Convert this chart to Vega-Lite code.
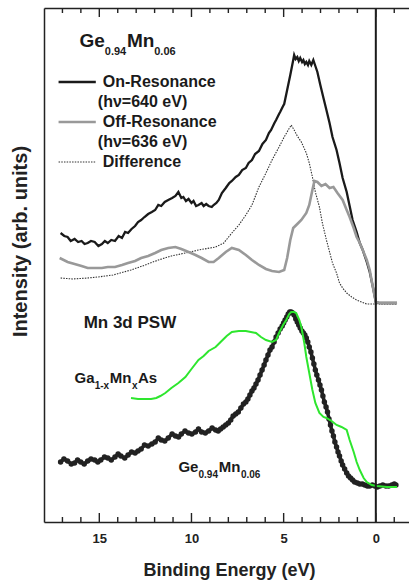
{
  "$schema": "https://vega.github.io/schema/vega-lite/v6.json",
  "width": 365,
  "height": 514,
  "autosize": "none",
  "padding": {"left": 44, "top": 8, "right": 0, "bottom": 58},
  "background": "white",
  "config": {
    "view": {"stroke": null},
    "font": "Liberation Sans",
    "axis": {
      "gridOpacity": 0,
      "domainColor": "#222",
      "domainWidth": 1.5,
      "labelFont": "Liberation Sans",
      "labelFontWeight": "bold",
      "labelFontSize": 13,
      "labelColor": "#222",
      "titleFont": "Liberation Sans",
      "titleFontWeight": "bold",
      "titleColor": "#222"
    }
  },
  "data": {"values": [
      {"s":"on","e":17.10,"v":289,"p":"c"},{"s":"on","e":16.90,"v":286,"p":"c"},{"s":"on","e":16.72,"v":285,"p":"c"},{"s":"on","e":16.55,"v":281,"p":"c"},{"s":"on","e":16.34,"v":283,"p":"c"},{"s":"on","e":16.15,"v":280,"p":"c"},{"s":"on","e":15.96,"v":281,"p":"c"},{"s":"on","e":15.80,"v":278,"p":"c"},{"s":"on","e":15.63,"v":279,"p":"c"},{"s":"on","e":15.45,"v":281,"p":"c"},{"s":"on","e":15.25,"v":280,"p":"c"},{"s":"on","e":15.05,"v":276,"p":"c"},{"s":"on","e":14.86,"v":278,"p":"c"},{"s":"on","e":14.70,"v":281,"p":"c"},{"s":"on","e":14.54,"v":279,"p":"c"},{"s":"on","e":14.35,"v":282,"p":"c"},{"s":"on","e":14.15,"v":281,"p":"c"},{"s":"on","e":13.95,"v":286,"p":"c"},{"s":"on","e":13.77,"v":284,"p":"c"},{"s":"on","e":13.60,"v":290,"p":"c"},{"s":"on","e":13.44,"v":289,"p":"c"},{"s":"on","e":13.25,"v":293,"p":"c"},{"s":"on","e":13.06,"v":296,"p":"c"},{"s":"on","e":12.90,"v":300,"p":"c"},{"s":"on","e":12.73,"v":302,"p":"c"},{"s":"on","e":12.55,"v":305,"p":"c"},{"s":"on","e":12.35,"v":308,"p":"c"},{"s":"on","e":12.15,"v":310,"p":"c"},{"s":"on","e":11.97,"v":312,"p":"c"},{"s":"on","e":11.80,"v":317,"p":"c"},{"s":"on","e":11.64,"v":316,"p":"c"},{"s":"on","e":11.45,"v":320,"p":"c"},{"s":"on","e":11.26,"v":322,"p":"c"},{"s":"on","e":11.05,"v":324,"p":"c"},{"s":"on","e":10.87,"v":326,"p":"c"},{"s":"on","e":10.71,"v":330,"p":"c"},{"s":"on","e":10.55,"v":324,"p":"c"},{"s":"on","e":10.44,"v":325,"p":"c"},{"s":"on","e":10.30,"v":321,"p":"c"},{"s":"on","e":10.16,"v":323,"p":"c"},{"s":"on","e":10.00,"v":319,"p":"c"},{"s":"on","e":9.89,"v":321,"p":"c"},{"s":"on","e":9.75,"v":316,"p":"c"},{"s":"on","e":9.62,"v":317,"p":"c"},{"s":"on","e":9.45,"v":319,"p":"c"},{"s":"on","e":9.34,"v":316,"p":"c"},{"s":"on","e":9.20,"v":318,"p":"c"},{"s":"on","e":9.07,"v":316,"p":"c"},{"s":"on","e":8.90,"v":315,"p":"c"},{"s":"on","e":8.80,"v":317,"p":"c"},{"s":"on","e":8.65,"v":319,"p":"c"},{"s":"on","e":8.52,"v":322,"p":"c"},{"s":"on","e":8.35,"v":329,"p":"c"},{"s":"on","e":8.14,"v":334,"p":"c"},{"s":"on","e":7.95,"v":339,"p":"c"},{"s":"on","e":7.81,"v":341,"p":"c"},{"s":"on","e":7.60,"v":345,"p":"c"},{"s":"on","e":7.43,"v":347,"p":"c"},{"s":"on","e":7.25,"v":352,"p":"c"},{"s":"on","e":7.05,"v":354,"p":"c"},{"s":"on","e":6.90,"v":359,"p":"c"},{"s":"on","e":6.72,"v":362,"p":"c"},{"s":"on","e":6.55,"v":368,"p":"c"},{"s":"on","e":6.34,"v":371,"p":"c"},{"s":"on","e":6.15,"v":378,"p":"c"},{"s":"on","e":5.96,"v":382,"p":"c"},{"s":"on","e":5.80,"v":389,"p":"c"},{"s":"on","e":5.68,"v":392,"p":"c"},{"s":"on","e":5.50,"v":399,"p":"c"},{"s":"on","e":5.41,"v":402,"p":"c"},{"s":"on","e":5.25,"v":408,"p":"c"},{"s":"on","e":5.19,"v":410,"p":"c"},{"s":"on","e":5.03,"v":416,"p":"c"},{"s":"on","e":4.97,"v":418,"p":"c"},{"s":"on","e":4.81,"v":432,"p":"c"},{"s":"on","e":4.64,"v":447,"p":"c"},{"s":"on","e":4.48,"v":462,"p":"c"},{"s":"on","e":4.43,"v":467,"p":"c"},{"s":"on","e":4.35,"v":463,"p":"c"},{"s":"on","e":4.26,"v":465,"p":"c"},{"s":"on","e":4.18,"v":461,"p":"c"},{"s":"on","e":4.10,"v":464,"p":"c"},{"s":"on","e":4.00,"v":460,"p":"c"},{"s":"on","e":3.93,"v":462,"p":"c"},{"s":"on","e":3.85,"v":458,"p":"c"},{"s":"on","e":3.77,"v":460,"p":"c"},{"s":"on","e":3.68,"v":457,"p":"c"},{"s":"on","e":3.61,"v":461,"p":"c"},{"s":"on","e":3.50,"v":457,"p":"c"},{"s":"on","e":3.39,"v":462,"p":"c"},{"s":"on","e":3.28,"v":456,"p":"c"},{"s":"on","e":3.17,"v":450,"p":"c"},{"s":"on","e":3.01,"v":437,"p":"c"},{"s":"on","e":2.84,"v":424,"p":"c"},{"s":"on","e":2.68,"v":412,"p":"c"},{"s":"on","e":2.51,"v":399,"p":"c"},{"s":"on","e":2.35,"v":385,"p":"c"},{"s":"on","e":2.13,"v":372,"p":"c"},{"s":"on","e":1.97,"v":359,"p":"c"},{"s":"on","e":1.80,"v":344,"p":"c"},{"s":"on","e":1.58,"v":330,"p":"c"},{"s":"on","e":1.42,"v":316,"p":"c"},{"s":"on","e":1.26,"v":302,"p":"c"},{"s":"on","e":1.04,"v":290,"p":"c"},{"s":"on","e":0.87,"v":279,"p":"c"},{"s":"on","e":0.71,"v":272,"p":"c"},{"s":"on","e":0.49,"v":260,"p":"c"},{"s":"on","e":0.33,"v":250,"p":"c"},{"s":"on","e":0.16,"v":235,"p":"c"},{"s":"on","e":0.00,"v":220,"p":"c"},{"s":"on","e":-0.22,"v":219,"p":"c"},{"s":"on","e":-0.66,"v":219,"p":"c"},{"s":"on","e":-1.15,"v":219,"p":"c"},
      {"s":"on","e":17.21,"v":440,"p":"k"},{"s":"on","e":15.19,"v":440,"p":"k"},
      {"s":"off","e":17.15,"v":264,"p":"c"},{"s":"off","e":16.72,"v":260,"p":"c"},{"s":"off","e":16.34,"v":258,"p":"c"},{"s":"off","e":15.96,"v":256,"p":"c"},{"s":"off","e":15.63,"v":254,"p":"c"},{"s":"off","e":15.25,"v":254,"p":"c"},{"s":"off","e":14.86,"v":254,"p":"c"},{"s":"off","e":14.54,"v":255,"p":"c"},{"s":"off","e":14.15,"v":255,"p":"c"},{"s":"off","e":13.77,"v":257,"p":"c"},{"s":"off","e":13.44,"v":259,"p":"c"},{"s":"off","e":13.06,"v":261,"p":"c"},{"s":"off","e":12.73,"v":264,"p":"c"},{"s":"off","e":12.35,"v":266,"p":"c"},{"s":"off","e":11.97,"v":269,"p":"c"},{"s":"off","e":11.64,"v":272,"p":"c"},{"s":"off","e":11.26,"v":274,"p":"c"},{"s":"off","e":10.87,"v":275,"p":"c"},{"s":"off","e":10.55,"v":273,"p":"c"},{"s":"off","e":10.16,"v":270,"p":"c"},{"s":"off","e":9.78,"v":267,"p":"c"},{"s":"off","e":9.45,"v":264,"p":"c"},{"s":"off","e":9.07,"v":260,"p":"c"},{"s":"off","e":8.80,"v":260,"p":"c"},{"s":"off","e":8.52,"v":264,"p":"c"},{"s":"off","e":8.14,"v":270,"p":"c"},{"s":"off","e":7.81,"v":274,"p":"c"},{"s":"off","e":7.43,"v":272,"p":"c"},{"s":"off","e":7.05,"v":267,"p":"c"},{"s":"off","e":6.72,"v":262,"p":"c"},{"s":"off","e":6.34,"v":257,"p":"c"},{"s":"off","e":5.96,"v":253,"p":"c"},{"s":"off","e":5.63,"v":251,"p":"c"},{"s":"off","e":5.25,"v":250,"p":"c"},{"s":"off","e":4.97,"v":252,"p":"c"},{"s":"off","e":4.81,"v":264,"p":"c"},{"s":"off","e":4.64,"v":282,"p":"c"},{"s":"off","e":4.48,"v":294,"p":"c"},{"s":"off","e":4.26,"v":298,"p":"c"},{"s":"off","e":4.04,"v":302,"p":"c"},{"s":"off","e":3.77,"v":309,"p":"c"},{"s":"off","e":3.61,"v":317,"p":"c"},{"s":"off","e":3.44,"v":332,"p":"c"},{"s":"off","e":3.33,"v":341,"p":"c"},{"s":"off","e":3.17,"v":340,"p":"c"},{"s":"off","e":2.95,"v":336,"p":"c"},{"s":"off","e":2.73,"v":338,"p":"c"},{"s":"off","e":2.51,"v":334,"p":"c"},{"s":"off","e":2.30,"v":335,"p":"c"},{"s":"off","e":2.08,"v":329,"p":"c"},{"s":"off","e":1.80,"v":322,"p":"c"},{"s":"off","e":1.58,"v":312,"p":"c"},{"s":"off","e":1.42,"v":305,"p":"c"},{"s":"off","e":1.20,"v":294,"p":"c"},{"s":"off","e":1.04,"v":285,"p":"c"},{"s":"off","e":0.87,"v":279,"p":"c"},{"s":"off","e":0.71,"v":272,"p":"c"},{"s":"off","e":0.49,"v":262,"p":"c"},{"s":"off","e":0.33,"v":252,"p":"c"},{"s":"off","e":0.16,"v":235,"p":"c"},{"s":"off","e":0.00,"v":220,"p":"c"},{"s":"off","e":-0.22,"v":219,"p":"c"},{"s":"off","e":-0.66,"v":219,"p":"c"},{"s":"off","e":-1.15,"v":219,"p":"c"},
      {"s":"off","e":17.21,"v":400,"p":"k"},{"s":"off","e":15.19,"v":400,"p":"k"},
      {"s":"diff","e":17.10,"v":244,"p":"c"},{"s":"diff","e":16.45,"v":243,"p":"c"},{"s":"diff","e":15.63,"v":244,"p":"c"},{"s":"diff","e":15.08,"v":245,"p":"c"},{"s":"diff","e":14.26,"v":247,"p":"c"},{"s":"diff","e":13.28,"v":252,"p":"c"},{"s":"diff","e":12.51,"v":257,"p":"c"},{"s":"diff","e":11.80,"v":262,"p":"c"},{"s":"diff","e":11.09,"v":266,"p":"c"},{"s":"diff","e":10.33,"v":269,"p":"c"},{"s":"diff","e":9.62,"v":272,"p":"c"},{"s":"diff","e":8.69,"v":275,"p":"c"},{"s":"diff","e":8.25,"v":279,"p":"c"},{"s":"diff","e":7.81,"v":289,"p":"c"},{"s":"diff","e":7.43,"v":297,"p":"c"},{"s":"diff","e":7.05,"v":307,"p":"c"},{"s":"diff","e":6.72,"v":317,"p":"c"},{"s":"diff","e":6.34,"v":335,"p":"c"},{"s":"diff","e":5.96,"v":349,"p":"c"},{"s":"diff","e":5.63,"v":362,"p":"c"},{"s":"diff","e":5.25,"v":375,"p":"c"},{"s":"diff","e":4.97,"v":385,"p":"c"},{"s":"diff","e":4.75,"v":392,"p":"c"},{"s":"diff","e":4.59,"v":397,"p":"c"},{"s":"diff","e":4.43,"v":392,"p":"c"},{"s":"diff","e":4.26,"v":386,"p":"c"},{"s":"diff","e":4.04,"v":380,"p":"c"},{"s":"diff","e":3.77,"v":369,"p":"c"},{"s":"diff","e":3.61,"v":359,"p":"c"},{"s":"diff","e":3.44,"v":345,"p":"c"},{"s":"diff","e":3.28,"v":330,"p":"c"},{"s":"diff","e":3.06,"v":315,"p":"c"},{"s":"diff","e":2.90,"v":299,"p":"c"},{"s":"diff","e":2.68,"v":282,"p":"c"},{"s":"diff","e":2.35,"v":259,"p":"c"},{"s":"diff","e":2.13,"v":249,"p":"c"},{"s":"diff","e":1.97,"v":239,"p":"c"},{"s":"diff","e":1.80,"v":234,"p":"c"},{"s":"diff","e":1.58,"v":229,"p":"c"},{"s":"diff","e":1.31,"v":225,"p":"c"},{"s":"diff","e":1.04,"v":222,"p":"c"},{"s":"diff","e":0.77,"v":220,"p":"c"},{"s":"diff","e":0.49,"v":218,"p":"c"},{"s":"diff","e":0.22,"v":218,"p":"c"},{"s":"diff","e":-0.05,"v":218,"p":"c"},{"s":"diff","e":-0.60,"v":218,"p":"c"},{"s":"diff","e":-1.15,"v":218,"p":"c"},
      {"s":"diff","e":17.21,"v":360,"p":"k"},{"s":"diff","e":15.19,"v":360,"p":"k"},
      {"s":"gamnas","e":13.28,"v":124},{"s":"gamnas","e":12.90,"v":123},{"s":"gamnas","e":12.51,"v":123},{"s":"gamnas","e":12.19,"v":123},{"s":"gamnas","e":11.91,"v":124},{"s":"gamnas","e":11.69,"v":126},{"s":"gamnas","e":11.42,"v":129},{"s":"gamnas","e":11.09,"v":134},{"s":"gamnas","e":10.71,"v":139},{"s":"gamnas","e":10.33,"v":145},{"s":"gamnas","e":10.00,"v":153},{"s":"gamnas","e":9.62,"v":162},{"s":"gamnas","e":9.34,"v":166},{"s":"gamnas","e":9.07,"v":171},{"s":"gamnas","e":8.69,"v":175},{"s":"gamnas","e":8.42,"v":180},{"s":"gamnas","e":8.09,"v":186},{"s":"gamnas","e":7.81,"v":190},{"s":"gamnas","e":7.43,"v":191},{"s":"gamnas","e":7.05,"v":191},{"s":"gamnas","e":6.78,"v":190},{"s":"gamnas","e":6.50,"v":189},{"s":"gamnas","e":6.23,"v":185},{"s":"gamnas","e":5.96,"v":182},{"s":"gamnas","e":5.63,"v":180},{"s":"gamnas","e":5.41,"v":182},{"s":"gamnas","e":5.25,"v":189},{"s":"gamnas","e":5.03,"v":197},{"s":"gamnas","e":4.86,"v":202},{"s":"gamnas","e":4.70,"v":208},{"s":"gamnas","e":4.59,"v":210},{"s":"gamnas","e":4.43,"v":210},{"s":"gamnas","e":4.32,"v":209},{"s":"gamnas","e":4.15,"v":202},{"s":"gamnas","e":4.04,"v":195},{"s":"gamnas","e":3.88,"v":179},{"s":"gamnas","e":3.77,"v":165},{"s":"gamnas","e":3.61,"v":149},{"s":"gamnas","e":3.44,"v":132},{"s":"gamnas","e":3.28,"v":119},{"s":"gamnas","e":3.06,"v":109},{"s":"gamnas","e":2.84,"v":105},{"s":"gamnas","e":2.68,"v":104},{"s":"gamnas","e":2.40,"v":101},{"s":"gamnas","e":2.13,"v":97},{"s":"gamnas","e":1.86,"v":95},{"s":"gamnas","e":1.58,"v":92},{"s":"gamnas","e":1.42,"v":82},{"s":"gamnas","e":1.20,"v":70},{"s":"gamnas","e":1.04,"v":60},{"s":"gamnas","e":0.87,"v":52},{"s":"gamnas","e":0.66,"v":44},{"s":"gamnas","e":0.49,"v":40},{"s":"gamnas","e":0.22,"v":37},{"s":"gamnas","e":-0.05,"v":36},{"s":"gamnas","e":-0.60,"v":35},{"s":"gamnas","e":-1.15,"v":35},
      {"s":"gemn","e":17.10,"v":60},{"s":"gemn","e":16.92,"v":63},{"s":"gemn","e":16.72,"v":61},{"s":"gemn","e":16.52,"v":58},{"s":"gemn","e":16.34,"v":59},{"s":"gemn","e":16.18,"v":62},{"s":"gemn","e":16.01,"v":60},{"s":"gemn","e":15.82,"v":58},{"s":"gemn","e":15.63,"v":61},{"s":"gemn","e":15.45,"v":63},{"s":"gemn","e":15.25,"v":62},{"s":"gemn","e":15.08,"v":60},{"s":"gemn","e":14.92,"v":62},{"s":"gemn","e":14.72,"v":65},{"s":"gemn","e":14.54,"v":64},{"s":"gemn","e":14.35,"v":62},{"s":"gemn","e":14.15,"v":65},{"s":"gemn","e":13.98,"v":68},{"s":"gemn","e":13.83,"v":66},{"s":"gemn","e":13.62,"v":64},{"s":"gemn","e":13.44,"v":67},{"s":"gemn","e":13.25,"v":70},{"s":"gemn","e":13.06,"v":69},{"s":"gemn","e":12.90,"v":71},{"s":"gemn","e":12.73,"v":73},{"s":"gemn","e":12.55,"v":77},{"s":"gemn","e":12.35,"v":76},{"s":"gemn","e":12.15,"v":78},{"s":"gemn","e":11.97,"v":80},{"s":"gemn","e":11.80,"v":84},{"s":"gemn","e":11.64,"v":82},{"s":"gemn","e":11.45,"v":81},{"s":"gemn","e":11.26,"v":84},{"s":"gemn","e":11.05,"v":88},{"s":"gemn","e":10.87,"v":86},{"s":"gemn","e":10.70,"v":85},{"s":"gemn","e":10.55,"v":88},{"s":"gemn","e":10.35,"v":91},{"s":"gemn","e":10.16,"v":89},{"s":"gemn","e":9.98,"v":88},{"s":"gemn","e":9.78,"v":90},{"s":"gemn","e":9.62,"v":93},{"s":"gemn","e":9.45,"v":90},{"s":"gemn","e":9.25,"v":89},{"s":"gemn","e":9.07,"v":91},{"s":"gemn","e":8.88,"v":94},{"s":"gemn","e":8.69,"v":92},{"s":"gemn","e":8.55,"v":91},{"s":"gemn","e":8.42,"v":93},{"s":"gemn","e":8.28,"v":95},{"s":"gemn","e":8.14,"v":97},{"s":"gemn","e":8.00,"v":99},{"s":"gemn","e":7.87,"v":102},{"s":"gemn","e":7.74,"v":106},{"s":"gemn","e":7.60,"v":108},{"s":"gemn","e":7.46,"v":110},{"s":"gemn","e":7.32,"v":114},{"s":"gemn","e":7.18,"v":118},{"s":"gemn","e":7.05,"v":120},{"s":"gemn","e":6.94,"v":123},{"s":"gemn","e":6.83,"v":127},{"s":"gemn","e":6.72,"v":131},{"s":"gemn","e":6.61,"v":134},{"s":"gemn","e":6.50,"v":138},{"s":"gemn","e":6.39,"v":142},{"s":"gemn","e":6.28,"v":147},{"s":"gemn","e":6.17,"v":152},{"s":"gemn","e":6.06,"v":157},{"s":"gemn","e":5.96,"v":162},{"s":"gemn","e":5.85,"v":167},{"s":"gemn","e":5.74,"v":172},{"s":"gemn","e":5.63,"v":175},{"s":"gemn","e":5.52,"v":180},{"s":"gemn","e":5.41,"v":185},{"s":"gemn","e":5.30,"v":189},{"s":"gemn","e":5.19,"v":193},{"s":"gemn","e":5.08,"v":196},{"s":"gemn","e":5.00,"v":199},{"s":"gemn","e":4.92,"v":202},{"s":"gemn","e":4.83,"v":205},{"s":"gemn","e":4.75,"v":208},{"s":"gemn","e":4.67,"v":210},{"s":"gemn","e":4.59,"v":210},{"s":"gemn","e":4.51,"v":209},{"s":"gemn","e":4.43,"v":207},{"s":"gemn","e":4.34,"v":203},{"s":"gemn","e":4.26,"v":200},{"s":"gemn","e":4.18,"v":197},{"s":"gemn","e":4.10,"v":194},{"s":"gemn","e":4.01,"v":191},{"s":"gemn","e":3.93,"v":189},{"s":"gemn","e":3.85,"v":187},{"s":"gemn","e":3.77,"v":184},{"s":"gemn","e":3.69,"v":180},{"s":"gemn","e":3.61,"v":175},{"s":"gemn","e":3.52,"v":170},{"s":"gemn","e":3.44,"v":164},{"s":"gemn","e":3.36,"v":158},{"s":"gemn","e":3.28,"v":152},{"s":"gemn","e":3.20,"v":147},{"s":"gemn","e":3.11,"v":142},{"s":"gemn","e":3.03,"v":137},{"s":"gemn","e":2.95,"v":132},{"s":"gemn","e":2.87,"v":126},{"s":"gemn","e":2.79,"v":120},{"s":"gemn","e":2.70,"v":115},{"s":"gemn","e":2.62,"v":110},{"s":"gemn","e":2.54,"v":103},{"s":"gemn","e":2.46,"v":97},{"s":"gemn","e":2.38,"v":91},{"s":"gemn","e":2.30,"v":86},{"s":"gemn","e":2.22,"v":80},{"s":"gemn","e":2.13,"v":75},{"s":"gemn","e":2.05,"v":70},{"s":"gemn","e":1.97,"v":66},{"s":"gemn","e":1.88,"v":61},{"s":"gemn","e":1.80,"v":57},{"s":"gemn","e":1.69,"v":53},{"s":"gemn","e":1.58,"v":49},{"s":"gemn","e":1.48,"v":46},{"s":"gemn","e":1.37,"v":44},{"s":"gemn","e":1.26,"v":42},{"s":"gemn","e":1.15,"v":40},{"s":"gemn","e":1.00,"v":39},{"s":"gemn","e":0.87,"v":38},{"s":"gemn","e":0.73,"v":38},{"s":"gemn","e":0.60,"v":37},{"s":"gemn","e":0.46,"v":36},{"s":"gemn","e":0.33,"v":36},{"s":"gemn","e":0.19,"v":37},{"s":"gemn","e":0.05,"v":36},{"s":"gemn","e":-0.08,"v":35},{"s":"gemn","e":-0.22,"v":36},{"s":"gemn","e":-0.38,"v":37},{"s":"gemn","e":-0.55,"v":36},{"s":"gemn","e":-0.70,"v":36},{"s":"gemn","e":-0.87,"v":37},{"s":"gemn","e":-1.00,"v":38},{"s":"gemn","e":-1.09,"v":37},
      {"s":"zero","e":0},
      {"s":"tk","e":0,"k":"M"},{"s":"tk","e":5,"k":"M"},{"s":"tk","e":10,"k":"M"},{"s":"tk","e":15,"k":"M"},
      {"s":"tk","e":-1,"k":"m"},{"s":"tk","e":1,"k":"m"},{"s":"tk","e":2,"k":"m"},{"s":"tk","e":3,"k":"m"},{"s":"tk","e":4,"k":"m"},{"s":"tk","e":6,"k":"m"},{"s":"tk","e":7,"k":"m"},{"s":"tk","e":8,"k":"m"},{"s":"tk","e":9,"k":"m"},{"s":"tk","e":11,"k":"m"},{"s":"tk","e":12,"k":"m"},{"s":"tk","e":13,"k":"m"},{"s":"tk","e":14,"k":"m"},{"s":"tk","e":16,"k":"m"},{"s":"tk","e":17,"k":"m"},
      {"s":"txt","e":16.07,"v":475,"t":"Ge","r":"title"},
      {"s":"txt","e":14.70,"v":467,"t":"0.94","r":"tsub"},
      {"s":"txt","e":13.50,"v":475,"t":"Mn","r":"title"},
      {"s":"txt","e":12.02,"v":467,"t":"0.06","r":"tsub"},
      {"s":"txt","e":14.81,"v":440,"t":"On-Resonance","r":"leg"},
      {"s":"txt","e":15.08,"v":420,"t":"(hν=640 eV)","r":"leg"},
      {"s":"txt","e":14.81,"v":400,"t":"Off-Resonance","r":"leg"},
      {"s":"txt","e":15.08,"v":380,"t":"(hν=636 eV)","r":"leg"},
      {"s":"txt","e":14.81,"v":360,"t":"Difference","r":"leg"},
      {"s":"txt","e":15.85,"v":194,"t":"Mn 3d PSW","r":"head"},
      {"s":"txt","e":16.34,"v":139,"t":"Ga","r":"lab"},
      {"s":"txt","e":15.25,"v":133,"t":"1-x","r":"sub"},
      {"s":"txt","e":14.43,"v":139,"t":"Mn","r":"lab"},
      {"s":"txt","e":13.22,"v":133,"t":"x","r":"sub"},
      {"s":"txt","e":12.90,"v":139,"t":"As","r":"lab"},
      {"s":"txt","e":10.71,"v":50,"t":"Ge","r":"lab"},
      {"s":"txt","e":9.62,"v":44,"t":"0.94","r":"sub"},
      {"s":"txt","e":8.52,"v":50,"t":"Mn","r":"lab"},
      {"s":"txt","e":7.32,"v":44,"t":"0.06","r":"sub"}
  ]},
  "layer": [
    {
      "transform": [{"filter": "datum.s === 'on'"}],
      "mark": {"type": "line", "color": "#1a1a1a", "strokeWidth": 2.3},
      "encoding": {
        "x": {
          "field": "e", "type": "quantitative",
          "scale": {"domain": [-1.8, 18], "reverse": true, "nice": false, "zero": false},
          "axis": {
            "orient": "bottom",
            "values": [0, 5, 10, 15],
            "ticks": false,
            "labelPadding": 20,
            "labelBaseline": "alphabetic",
            "title": "Binding Energy (eV)",
            "titleFontSize": 18,
            "titleBaseline": "alphabetic",
            "titleX": 185,
            "titleY": 53
          }
        },
        "y": {
          "field": "v", "type": "quantitative",
          "scale": {"domain": [0, 514], "nice": false, "zero": false},
          "axis": {
            "ticks": false, "labels": false,
            "title": "Intensity (arb. units)",
            "titleFontSize": 20,
            "titleBaseline": "middle",
            "titleX": -24,
            "titleY": 233
          }
        },
        "detail": {"field": "p"}
      }
    },
    {
      "transform": [{"filter": "datum.s === 'diff'"}],
      "mark": {"type": "line", "color": "#333333", "strokeWidth": 1.1, "strokeDash": [1.5, 1.2]},
      "encoding": {
        "x": {"field": "e", "type": "quantitative",
          "axis": {"orient": "top", "ticks": false, "labels": false, "title": null, "values": [0]}},
        "y": {"field": "v", "type": "quantitative"},
        "detail": {"field": "p"}
      }
    },
    {
      "transform": [{"filter": "datum.s === 'off'"}],
      "mark": {"type": "line", "color": "#999999", "strokeWidth": 2.6},
      "encoding": {
        "x": {"field": "e", "type": "quantitative", "axis": null},
        "y": {"field": "v", "type": "quantitative"},
        "detail": {"field": "p"}
      }
    },
    {
      "transform": [{"filter": "datum.s === 'gemn'"}],
      "mark": {"type": "line", "color": "#222222", "strokeWidth": 3.5},
      "encoding": {
        "x": {"field": "e", "type": "quantitative", "axis": null},
        "y": {"field": "v", "type": "quantitative"}
      }
    },
    {
      "transform": [{"filter": "datum.s === 'gemn'"}],
      "mark": {"type": "point", "filled": true, "color": "#222222", "size": 30, "opacity": 1},
      "encoding": {
        "x": {"field": "e", "type": "quantitative", "axis": null},
        "y": {"field": "v", "type": "quantitative"}
      }
    },
    {
      "transform": [{"filter": "datum.s === 'gamnas'"}],
      "mark": {"type": "line", "color": "#2ee62e", "strokeWidth": 2},
      "encoding": {
        "x": {"field": "e", "type": "quantitative", "axis": null},
        "y": {"field": "v", "type": "quantitative"}
      }
    },
    {
      "transform": [{"filter": "datum.s === 'zero'"}],
      "mark": {"type": "rule", "color": "#1a1a1a", "strokeWidth": 2},
      "encoding": {
        "x": {"field": "e", "type": "quantitative", "axis": null}
      }
    },
    {
      "transform": [{"filter": "datum.s === 'tk' && datum.k === 'M'"}],
      "mark": {"type": "tick", "orient": "vertical", "size": 9, "thickness": 1.4, "color": "#222222", "opacity": 1},
      "encoding": {
        "x": {"field": "e", "type": "quantitative", "axis": null},
        "y": {"datum": 4.5, "type": "quantitative"}
      }
    },
    {
      "transform": [{"filter": "datum.s === 'tk' && datum.k === 'M'"}],
      "mark": {"type": "tick", "orient": "vertical", "size": 9, "thickness": 1.4, "color": "#222222", "opacity": 1},
      "encoding": {
        "x": {"field": "e", "type": "quantitative", "axis": null},
        "y": {"datum": 509.5, "type": "quantitative"}
      }
    },
    {
      "transform": [{"filter": "datum.s === 'tk' && datum.k === 'm'"}],
      "mark": {"type": "tick", "orient": "vertical", "size": 5, "thickness": 1.4, "color": "#222222", "opacity": 1},
      "encoding": {
        "x": {"field": "e", "type": "quantitative", "axis": null},
        "y": {"datum": 2.5, "type": "quantitative"}
      }
    },
    {
      "transform": [{"filter": "datum.s === 'tk' && datum.k === 'm'"}],
      "mark": {"type": "tick", "orient": "vertical", "size": 5, "thickness": 1.4, "color": "#222222", "opacity": 1},
      "encoding": {
        "x": {"field": "e", "type": "quantitative", "axis": null},
        "y": {"datum": 511.5, "type": "quantitative"}
      }
    },
    {
      "transform": [{"filter": "datum.r === 'title'"}],
      "mark": {"type": "text", "align": "left", "baseline": "alphabetic", "fontSize": 19, "fontWeight": "bold", "color": "#1a1a1a"},
      "encoding": {
        "x": {"field": "e", "type": "quantitative", "axis": null},
        "y": {"field": "v", "type": "quantitative"},
        "text": {"field": "t"}
      }
    },
    {
      "transform": [{"filter": "datum.r === 'tsub'"}],
      "mark": {"type": "text", "align": "left", "baseline": "alphabetic", "fontSize": 11, "fontWeight": "bold", "color": "#1a1a1a"},
      "encoding": {
        "x": {"field": "e", "type": "quantitative", "axis": null},
        "y": {"field": "v", "type": "quantitative"},
        "text": {"field": "t"}
      }
    },
    {
      "transform": [{"filter": "datum.r === 'leg'"}],
      "mark": {"type": "text", "align": "left", "baseline": "middle", "fontSize": 16, "fontWeight": "bold", "color": "#1a1a1a"},
      "encoding": {
        "x": {"field": "e", "type": "quantitative", "axis": null},
        "y": {"field": "v", "type": "quantitative"},
        "text": {"field": "t"}
      }
    },
    {
      "transform": [{"filter": "datum.r === 'head'"}],
      "mark": {"type": "text", "align": "left", "baseline": "alphabetic", "fontSize": 17, "fontWeight": "bold", "color": "#1a1a1a"},
      "encoding": {
        "x": {"field": "e", "type": "quantitative", "axis": null},
        "y": {"field": "v", "type": "quantitative"},
        "text": {"field": "t"}
      }
    },
    {
      "transform": [{"filter": "datum.r === 'lab'"}],
      "mark": {"type": "text", "align": "left", "baseline": "alphabetic", "fontSize": 15, "fontWeight": "bold", "color": "#1a1a1a"},
      "encoding": {
        "x": {"field": "e", "type": "quantitative", "axis": null},
        "y": {"field": "v", "type": "quantitative"},
        "text": {"field": "t"}
      }
    },
    {
      "transform": [{"filter": "datum.r === 'sub'"}],
      "mark": {"type": "text", "align": "left", "baseline": "alphabetic", "fontSize": 10, "fontWeight": "bold", "color": "#1a1a1a"},
      "encoding": {
        "x": {"field": "e", "type": "quantitative", "axis": null},
        "y": {"field": "v", "type": "quantitative"},
        "text": {"field": "t"}
      }
    }
  ],
  "resolve": {"axis": {"x": "independent"}}
}
